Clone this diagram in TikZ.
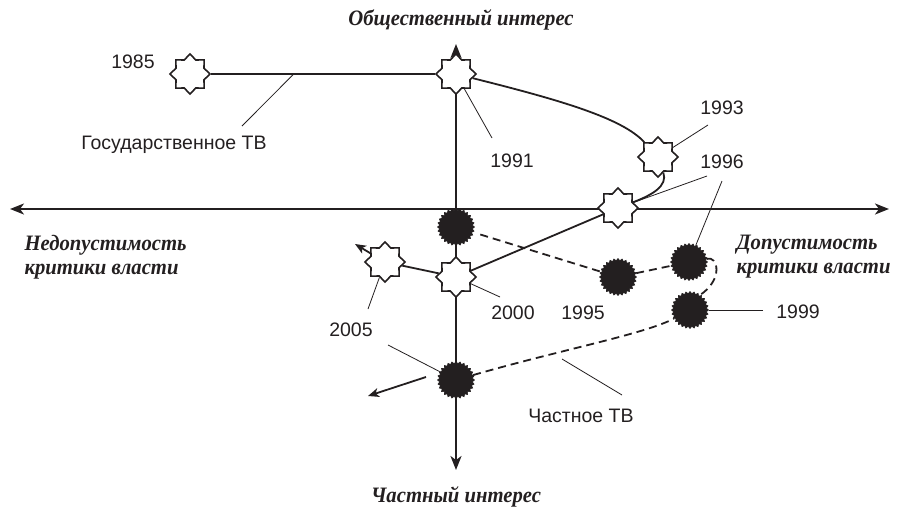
\documentclass[tikz,border=0pt]{standalone}
\usepackage{fontspec}
\setmainfont{Liberation Serif}
\setsansfont{Liberation Sans}
\newfontfamily\axisfont{Liberation Serif}[FakeStretch=0.94]
\usepackage{tikz}
\usetikzlibrary{shapes,arrows.meta,positioning,calc}
\usepackage{xcolor}
\definecolor{printblack}{RGB}{35,31,32}

\tikzset{
    whitestar/.style={star, star points=8, star point ratio=1.32, minimum size=40pt,
        inner sep=0pt, draw=printblack, line width=1.6pt, fill=white},
    blackstar/.style={star, star points=28, star point ratio=1.13, minimum size=37pt,
        inner sep=0pt, draw=printblack, line width=0.6pt, fill=printblack},
    yearlabel/.style={font=\sffamily\fontsize{19.5}{22}\selectfont, text=printblack},
    axislabel/.style={font=\axisfont\fontsize{22}{24}\selectfont\bfseries\itshape, text=printblack, align=left},
    axisline/.style={line width=1.8pt, draw=printblack, {Stealth[length=14pt,width=11pt,inset=4pt]}-{Stealth[length=14pt,width=11pt,inset=4pt]}},
    track/.style={line width=1.8pt, draw=printblack},
    dashtrack/.style={line width=1.8pt, draw=printblack, dash pattern=on 8pt off 5pt},
    leader/.style={line width=0.8pt, draw=printblack},
    tip/.style={-{Stealth[length=11pt,width=9pt,inset=3pt]}}
}

\begin{document}
\begin{tikzpicture}[x=1pt, y=-1pt]
    \useasboundingbox (0,0) rectangle (897,512);

    % Axes
    \coordinate (west) at (10,209);
    \coordinate (east) at (889,209);
    \coordinate (north) at (456,44);
    \coordinate (south) at (456,470);
    \draw[axisline] (west) -- (east);
    \draw[axisline] (south) -- (north);

    % Axis labels
    \node[axislabel] (public) at (461,20) {Общественный интерес};
    \node[axislabel] (private) at (456,497) {Частный интерес};
    \node[axislabel, anchor=west] (notallowed) at (21,257) {Недопустимость\\критики власти};
    \node[axislabel, anchor=west] (allowed) at (733,257) {Допустимость\\критики власти};

    % State TV (white stars)
    \node[whitestar] (y1985) at (190,74) {};
    \node[whitestar] (y1991) at (456,74) {};
    \node[whitestar] (y1993) at (658,157) {};
    \node[whitestar] (y1996) at (618,208) {};
    \node[whitestar] (y2000) at (456,277) {};
    \node[whitestar] (y2005) at (385,262) {};

    % Private TV (black stars)
    \foreach \name/\x/\y in {b1994/456/227, b1995/618/277, b1996/689/262,
                             b1999/690/310, b2005/456/380} {
        \node[blackstar] (\name) at (\x,\y) {};
    }

    % State TV track
    \draw[track] (y1985) -- (y1991);
    \draw[track] (y1991) .. controls (560,100) and (622,118) .. (y1993);
    \draw[track] (y1993) .. controls (668,186) and (652,195) .. (y1996);
    \draw[track] (y1996) -- (y2000);
    \draw[track] (y2000) -- (y2005);
    \coordinate (statetip) at (355,244);
    \draw[track, tip] (y2005) -- (statetip);

    % Private TV track
    \draw[dashtrack, shorten <=8pt] (b1994) -- (b1995);
    \draw[dashtrack] (b1995) -- (b1996);
    \draw[dashtrack] (b1996.10) .. controls (718,255) and (724,280) .. (b1999.58);
    \draw[dashtrack] (b2005) .. controls (560,350) and (645,334) .. (b1999);
    \coordinate (privatetip) at (368,396);
    \draw[track, tip] (b2005) ++(-30,-3) -- (privatetip);

    % Year labels
    \node[yearlabel] (t1985) at (133,62) {1985};
    \node[yearlabel] (t1991) at (512,161) {1991};
    \node[yearlabel] (t1993) at (722,108) {1993};
    \node[yearlabel] (t1996) at (722,162) {1996};
    \node[yearlabel] (t2000) at (513,313) {2000};
    \node[yearlabel] (t1995) at (583,313) {1995};
    \node[yearlabel] (t1999) at (798,312) {1999};
    \node[yearlabel] (t2005) at (351,330) {2005};
    \node[yearlabel] (statetv) at (174,145) {Государственное ТВ};
    \node[yearlabel] (privatetv) at (581,416) {Частное ТВ};

    % Leader lines
    \coordinate (stateline) at ($(y1985)!0.39!(y1991)$);
    \coordinate (privateline) at (562,359);
    \draw[leader] (statetv) ++(68,-19) -- (stateline);
    \draw[leader] (t1991) ++(-20,-23) -- (y1991);
    \draw[leader] (t1993) ++(-14,17) -- (y1993);
    \draw[leader] (t1996) ++(-15,14) -- (y1996);
    \draw[leader] (t1996) ++(0,19) -- (b1996);
    \draw[leader] (t2000) ++(-13,-16) -- (y2000);
    \draw[leader] (t1999) ++(-35,-2) -- (b1999);
    \draw[leader] (t2005) ++(17,-21) -- (y2005);
    \draw[leader] (t2005) ++(37,15) -- (b2005);
    \draw[leader] (privatetv) ++(41,-21) -- (privateline);
\end{tikzpicture}
\end{document}
